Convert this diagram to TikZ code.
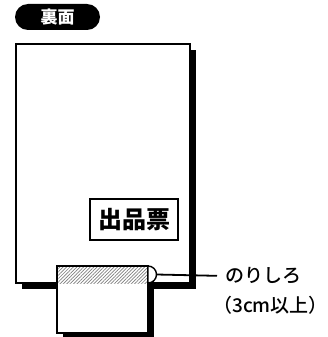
\documentclass[tikz,border=0pt]{standalone}
\usepackage{fontspec}
\newfontfamily\jp{Noto Sans CJK JP}
\newfontfamily\jpm{Noto Sans CJK JP Medium}
\usetikzlibrary{patterns.meta}
\tikzset{
  shadowbox/.style={fill=black, draw=none},
  paperbox/.style={fill=white, draw=black, line width=1.4pt},
  slipbox/.style={fill=white, draw=black, line width=2pt},
  pill/.style={fill=black, rounded corners=13pt, inner sep=0pt, minimum width=85pt, minimum height=26pt, text=white, font=\jp\bfseries\fontsize{17}{17}\selectfont},
  stamp/.style={draw=black, line width=1.4pt, fill=white, minimum width=88pt, minimum height=41pt, inner sep=0pt, font=\jp\bfseries\fontsize{24}{24}\selectfont},
  lbl/.style={font=\jpm\fontsize{19}{19}\selectfont, inner sep=0pt, anchor=west},
  leader/.style={draw=black, line width=1.8pt, shorten >=8pt}
}
\begin{document}
\begin{tikzpicture}[x=1pt,y=-1pt]
\useasboundingbox (0,0) rectangle (327,337);
% title pill
\node[pill] (title) at (57.5,17) {裏面};
% sheet
\fill[shadowbox] (22,50) rectangle (196,289);
\draw[paperbox] (16,44) rectangle (190,283);
% stamp label
\node[stamp] (stamp) at (134,219.5) {出品票};
% slip
\fill[shadowbox] (63,272) rectangle (154,339);
\draw[slipbox] (57,266) rectangle (148,333);
\fill[pattern={Lines[angle=45,distance=2.4pt,line width=0.7pt]}, pattern color=gray] (58,267) rectangle (147,283);
% bump
\draw[fill=white, draw=black, line width=1.4pt] (148,266) arc[start angle=-90, end angle=90, radius=8.5] -- cycle;
\coordinate (bump) at (156.5,274.5);
\draw[slipbox, fill=none] (57,266) -- (148,266);
% labels
\node[lbl] (nori) at (225,276) {のりしろ};
\node[lbl] (cm) at (213,305) {（3cm以上）};
\draw[leader] (bump) -- (nori.west);
\end{tikzpicture}
\end{document}
